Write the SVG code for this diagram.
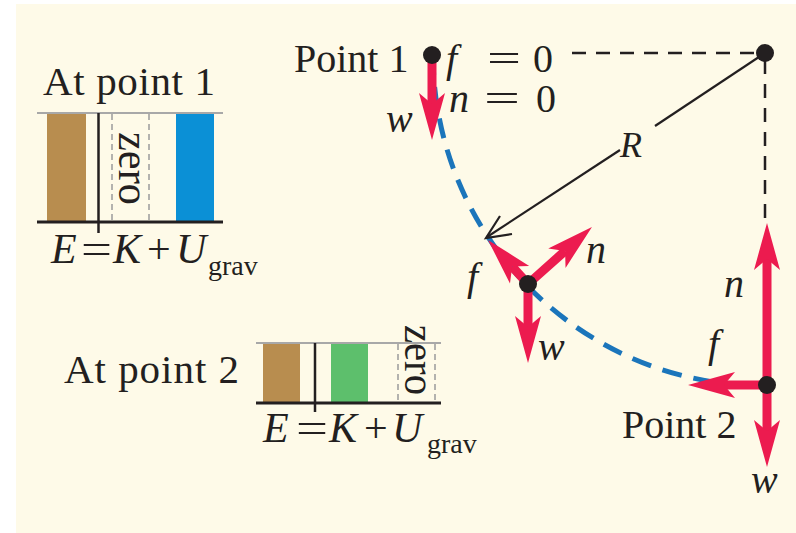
<svg xmlns="http://www.w3.org/2000/svg" width="796" height="533" viewBox="0 0 796 533">
<style>
.t{font-family:"Liberation Serif","Times New Roman",serif;fill:#231f20}
.it{font-style:italic}
.force{stroke:#ec1b4f;stroke-width:9;fill:none;marker-end:url(#ah)}
.dot{fill:#231f20}
.bl{stroke:#231f20;fill:none}
.gd{stroke:#9a9a9a;stroke-width:1.5;stroke-dasharray:6 4;fill:none}
</style>
<defs>
<marker id="ah" markerUnits="userSpaceOnUse" orient="auto" viewBox="-12 -14 50 28" refX="0" refY="0" markerWidth="50" markerHeight="28">
<path d="M36,0 L-11,-13 L0,0 L-11,13 Z" fill="#ec1b4f"/>
</marker>
</defs>
<rect x="0" y="0" width="796" height="533" fill="#ffffff"/>
<rect x="16" y="4" width="780" height="529" fill="#fefae8"/>

<g id="chart1">
<text class="t" x="43" y="95" font-size="41" textLength="172" lengthAdjust="spacing">At point 1</text>
<rect x="47" y="113" width="39" height="109" fill="#b88d4f"/>
<rect x="176" y="113" width="38" height="109" fill="#0b90d6"/>
<line class="gd" x1="112" y1="114" x2="112" y2="221"/>
<line class="gd" x1="149" y1="114" x2="149" y2="221"/>
<text class="t" transform="translate(119,132) rotate(90)" x="0" y="0" font-size="44" textLength="73" lengthAdjust="spacingAndGlyphs">zero</text>
<line x1="37" y1="113" x2="223" y2="113" stroke="#a8a8a8" stroke-width="2"/>
<line class="bl" x1="37" y1="222" x2="223" y2="222" stroke-width="3"/>
<line class="bl" x1="98.5" y1="113" x2="98.5" y2="233" stroke-width="2.5"/>
<text class="t it" x="51" y="263" font-size="42">E</text>
<text class="t" x="81" y="263" font-size="42" textLength="31" lengthAdjust="spacingAndGlyphs">=</text>
<text class="t it" x="113" y="263" font-size="42">K</text>
<text class="t" x="147" y="263" font-size="42">+</text>
<text class="t it" x="176" y="263" font-size="42">U</text>
<text class="t" x="208" y="275" font-size="28">grav</text>
</g>

<g id="chart2">
<text class="t" x="64" y="383" font-size="41" textLength="175" lengthAdjust="spacing">At point 2</text>
<rect x="263" y="343" width="37" height="60" fill="#b88d4f"/>
<rect x="331" y="343" width="37" height="60" fill="#5dbf6c"/>
<line class="gd" x1="398" y1="344" x2="398" y2="402"/>
<line class="gd" x1="435" y1="344" x2="435" y2="402"/>
<text class="t" transform="translate(405,325) rotate(90)" x="0" y="0" font-size="44" textLength="70" lengthAdjust="spacingAndGlyphs">zero</text>
<line x1="256" y1="343" x2="441" y2="343" stroke="#a8a8a8" stroke-width="2"/>
<line class="bl" x1="256" y1="403" x2="441" y2="403" stroke-width="3"/>
<line class="bl" x1="315" y1="343" x2="315" y2="412" stroke-width="2.5"/>
<text class="t it" x="263" y="442" font-size="42">E</text>
<text class="t" x="296" y="442" font-size="42" textLength="32" lengthAdjust="spacingAndGlyphs">=</text>
<text class="t it" x="329" y="442" font-size="42">K</text>
<text class="t" x="364" y="442" font-size="42">+</text>
<text class="t it" x="392" y="442" font-size="42">U</text>
<text class="t" x="427" y="453" font-size="28">grav</text>
</g>

<g id="connectors">
<path d="M433,55 A332,332 0 0,0 765,386" fill="none" stroke="#1b75bb" stroke-width="5" stroke-dasharray="20 12"/>
<line class="bl" x1="572" y1="53" x2="757" y2="53" stroke-width="2.5" stroke-dasharray="14 10"/>
<line class="bl" x1="765" y1="60" x2="765" y2="223" stroke-width="2.5" stroke-dasharray="14 10"/>
<line class="bl" x1="765" y1="53" x2="655" y2="126" stroke-width="2.2"/>
<line class="bl" x1="620" y1="150" x2="487" y2="237" stroke-width="2.2"/>
<path class="bl" d="M500,216 L486,238 L512,234" stroke-width="2.2"/>
<text class="t it" x="620" y="157" font-size="36">R</text>
</g>

<g id="center">
<circle class="dot" cx="765" cy="53" r="9"/>
</g>

<g id="point1">
<line class="force" x1="432" y1="55" x2="432" y2="104"/>
<circle class="dot" cx="432" cy="55" r="9"/>
<text class="t" x="294" y="72" font-size="40">Point 1</text>
<text class="t it" x="386" y="132" font-size="40">w</text>
<text class="t it" x="446" y="72" font-size="40">f</text>
<text class="t" x="487" y="72" font-size="40" textLength="34" lengthAdjust="spacingAndGlyphs">=</text>
<text class="t" x="533" y="72" font-size="40">0</text>
<text class="t it" x="449" y="112" font-size="40">n</text>
<text class="t" x="484" y="112" font-size="40" textLength="36" lengthAdjust="spacingAndGlyphs">=</text>
<text class="t" x="536" y="112" font-size="40">0</text>
</g>

<g id="point-mid">
<line class="force" x1="528" y1="284" x2="512.2" y2="266.6"/>
<line class="force" x1="528" y1="284" x2="565.1" y2="250.9"/>
<line class="force" x1="528" y1="284" x2="528" y2="327"/>
<circle class="dot" cx="528" cy="284" r="9"/>
<text class="t it" x="467" y="290" font-size="40">f</text>
<text class="t it" x="586" y="263" font-size="40">n</text>
<text class="t it" x="538" y="360" font-size="40">w</text>
</g>

<g id="point2">
<line class="force" x1="767" y1="385" x2="767" y2="259"/>
<line class="force" x1="767" y1="385" x2="724" y2="385"/>
<line class="force" x1="767" y1="385" x2="767" y2="431"/>
<circle class="dot" cx="767" cy="385" r="9"/>
<text class="t" x="622" y="438" font-size="40">Point 2</text>
<text class="t it" x="724" y="297" font-size="40">n</text>
<text class="t it" x="708" y="357" font-size="40">f</text>
<text class="t it" x="751" y="493" font-size="40">w</text>
</g>
</svg>
